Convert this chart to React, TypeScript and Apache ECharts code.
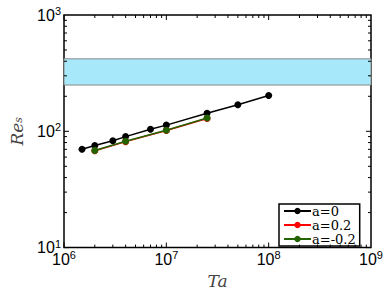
import React, { useEffect, useRef } from "react";
import * as echarts from "echarts";

const xDecades = [6, 7, 8, 9];
const yDecades = [1, 2, 3];
const seriesNames = ["a=0", "a=0.2", "a=-0.2"];
const seriesColors = ["#000000", "#ff0000", "#236300"];
const ta_a0 = [1.5e6, 2e6, 3e6, 4e6, 7e6, 1e7, 2.5e7, 5e7, 1e8];
const res_a0 = [70, 75.5, 83, 90, 104, 113, 143, 169, 203];
const ta_a02 = [2e6, 4e6, 1e7, 2.5e7];
const res_ap02 = [68, 81.5, 101.5, 129];
const res_am02 = [68.5, 82, 102, 130];
const bandLow = 250;
const bandHigh = 420;

function pairs(xs: number[], ys: number[]) {
  return xs.map((x, i) => [x, ys[i]]);
}

export default function App() {
  const ref = useRef<HTMLDivElement>(null);
  useEffect(() => {
    document.body.style.margin = "0";
    const chart = echarts.init(ref.current!, null, { renderer: "svg" });
    const xMin = Math.pow(10, xDecades[0]);
    const xMax = Math.pow(10, xDecades[xDecades.length - 1]);
    const yMin = Math.pow(10, yDecades[0]);
    const yMax = Math.pow(10, yDecades[yDecades.length - 1]);

    // tick marks: [x, y, side, len]
    const ticks: number[][] = [];
    for (let d = xDecades[0]; d < xDecades[xDecades.length - 1]; d++) {
      for (let m = 1; m <= 9; m++) {
        const v = m * Math.pow(10, d);
        const len = m === 1 ? 5 : 3;
        ticks.push([v, yMin, 0, len]);
        ticks.push([v, yMax, 1, len]);
      }
    }
    for (let d = yDecades[0]; d < yDecades[yDecades.length - 1]; d++) {
      for (let m = 1; m <= 9; m++) {
        const v = m * Math.pow(10, d);
        const len = m === 1 ? 5 : 3;
        ticks.push([xMin, v, 2, len]);
        ticks.push([xMax, v, 3, len]);
      }
    }

    const rich = {
      b: { fontFamily: "Liberation Sans", fontSize: 16, color: "#000" },
      s: { fontFamily: "Liberation Sans", fontSize: 11, color: "#000", padding: [0, 0, 8, 0] },
    };
    const fmt = (v: number) => `{b|10}{s|${Math.round(Math.log10(v))}}`;

    chart.setOption({
      animation: false,
      grid: {
        left: 59,
        right: 19,
        top: 15,
        bottom: 46,
        show: true,
        borderColor: "#000",
        borderWidth: 1.5,
        backgroundColor: "transparent",
      },
      legend: {
        data: seriesNames,
        orient: "vertical",
        left: 279,
        top: 204,
        itemWidth: 27,
        itemHeight: 8,
        itemGap: 0,
        padding: [0, 4, 0, 4],
        backgroundColor: "#fff",
        borderColor: "#000",
        borderWidth: 1.5,
        borderRadius: 0,
        textStyle: { fontFamily: "DejaVu Serif", fontSize: 13, color: "#000", lineHeight: 14, padding: [0, 0, 0, -4] },
      },
      xAxis: {
        type: "log",
        logBase: 10,
        min: xMin,
        max: xMax,
        splitNumber: 3,
        axisLine: { show: false },
        axisTick: { show: false },
        splitLine: { show: false },
        axisLabel: { formatter: fmt, rich, margin: 2, showMinLabel: true, showMaxLabel: true },
        name: "{i|Ta}",
        nameLocation: "middle",
        nameGap: 20,
        nameTextStyle: {
          rich: { i: { fontFamily: "DejaVu Serif", fontStyle: "italic", fontSize: 17, color: "#444" } },
        },
      },
      yAxis: {
        type: "log",
        logBase: 10,
        min: yMin,
        max: yMax,
        splitNumber: 2,
        axisLine: { show: false },
        axisTick: { show: false },
        splitLine: { show: false },
        axisLabel: { formatter: fmt, rich, margin: 3 },
        name: "{i|Re}{u|s}",
        nameLocation: "middle",
        nameRotate: 90,
        nameGap: 35,
        nameTextStyle: {
          rich: {
            i: { fontFamily: "DejaVu Serif", fontStyle: "italic", fontSize: 17, color: "#444", padding: [0, 0, 4, 0] },
            u: { fontFamily: "DejaVu Serif", fontStyle: "italic", fontSize: 11, color: "#444" },
          },
        },
      },
      series: [
        {
          type: "custom",
          silent: true,
          clip: false,
          z: 10,
          renderItem: (params: any, api: any) => {
            const x = api.value(0);
            const y = api.value(1);
            const side = api.value(2);
            const len = api.value(3);
            const p = api.coord([x, y]);
            let dx = 0, dy = 0;
            if (side === 0) dy = -len;
            else if (side === 1) dy = len;
            else if (side === 2) dx = len;
            else dx = -len;
            return {
              type: "line",
              shape: { x1: p[0], y1: p[1], x2: p[0] + dx, y2: p[1] + dy },
              style: { stroke: "#000", lineWidth: 1 },
            };
          },
          data: ticks,
          markArea: {
            silent: true,
            itemStyle: { color: "#a8e8fb", borderColor: "#8a8a8a", borderWidth: 1 },
            data: [[{ yAxis: bandLow }, { yAxis: bandHigh }]],
          },
        },
        {
          name: seriesNames[0],
          type: "line",
          data: pairs(ta_a0, res_a0),
          symbol: "circle",
          symbolSize: 7,
          lineStyle: { color: seriesColors[0], width: 1.5 },
          itemStyle: { color: seriesColors[0] },
          z: 3,
        },
        {
          name: seriesNames[1],
          type: "line",
          data: pairs(ta_a02, res_ap02),
          symbol: "circle",
          symbolSize: 7,
          lineStyle: { color: seriesColors[1], width: 1.5 },
          itemStyle: { color: seriesColors[1] },
          z: 4,
        },
        {
          name: seriesNames[2],
          type: "line",
          data: pairs(ta_a02, res_am02),
          symbol: "circle",
          symbolSize: 7,
          lineStyle: { color: seriesColors[2], width: 1.5 },
          itemStyle: { color: seriesColors[2] },
          z: 5,
        },
      ],
    });
    return () => chart.dispose();
  }, []);
  return <div ref={ref} style={{ width: 390, height: 294 }} />;
}
